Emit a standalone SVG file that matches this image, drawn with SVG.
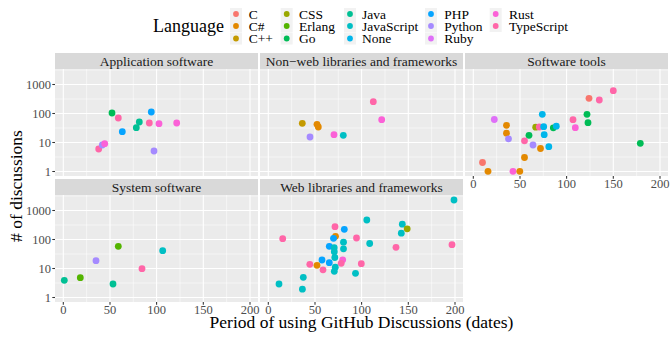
<svg xmlns="http://www.w3.org/2000/svg" xmlns:xlink="http://www.w3.org/1999/xlink" width="671" height="340" viewBox="0 0 671 340">
<style>
text{font-family:"Liberation Serif","Times New Roman",serif}
.strip{font-size:13.5px;fill:#1A1A1A;text-anchor:middle}
.ytick{font-size:12.5px;fill:#4D4D4D;text-anchor:end}
.xtick{font-size:12.5px;fill:#4D4D4D;text-anchor:middle}
.title{font-size:17.5px;fill:#000;text-anchor:middle}
.leg{font-size:13.5px;fill:#000}
.maj{stroke:#fff;stroke-width:1.07}
.min{stroke:#fff;stroke-width:0.53}
.tk{stroke:#333;stroke-width:1.07}
circle{stroke:none}
.C{fill:#F8766D}.Cs{fill:#E38900}.Cpp{fill:#C49A00}.CSS{fill:#99A800}.Erl{fill:#53B400}.Go{fill:#00BC56}.Java{fill:#00C094}.JS{fill:#00BFC4}.None{fill:#00B6EB}.PHP{fill:#06A4FF}.Py{fill:#A58AFF}.Ruby{fill:#DF70F8}.Rust{fill:#FB61D7}.TS{fill:#FF66A8}
</style>
<defs>
<g id="panelbg">
<rect x="0" y="-16" width="203" height="16" fill="#D9D9D9"/>
<rect x="0" y="0" width="203" height="107" fill="#EBEBEB"/>
<g class="min">
<line x1="31.6" y1="0" x2="31.6" y2="107"/><line x1="78.3" y1="0" x2="78.3" y2="107"/><line x1="125" y1="0" x2="125" y2="107"/><line x1="171.6" y1="0" x2="171.6" y2="107"/>
<line x1="0" y1="88" x2="203" y2="88"/><line x1="0" y1="59" x2="203" y2="59"/><line x1="0" y1="30" x2="203" y2="30"/><line x1="0" y1="1" x2="203" y2="1"/>
</g>
<g class="maj">
<line x1="8.3" y1="0" x2="8.3" y2="107"/><line x1="55" y1="0" x2="55" y2="107"/><line x1="101.6" y1="0" x2="101.6" y2="107"/><line x1="148.3" y1="0" x2="148.3" y2="107"/><line x1="195" y1="0" x2="195" y2="107"/>
<line x1="0" y1="102.5" x2="203" y2="102.5"/><line x1="0" y1="73.5" x2="203" y2="73.5"/><line x1="0" y1="44.5" x2="203" y2="44.5"/><line x1="0" y1="15.5" x2="203" y2="15.5"/>
</g>
</g>
<g id="xaxis">
<g class="tk"><line x1="8.3" y1="107" x2="8.3" y2="109.7"/><line x1="55" y1="107" x2="55" y2="109.7"/><line x1="101.6" y1="107" x2="101.6" y2="109.7"/><line x1="148.3" y1="107" x2="148.3" y2="109.7"/><line x1="195" y1="107" x2="195" y2="109.7"/></g>
<text class="xtick" x="8.3" y="119">0</text><text class="xtick" x="55" y="119">50</text><text class="xtick" x="101.6" y="119">100</text><text class="xtick" x="148.3" y="119">150</text><text class="xtick" x="195" y="119">200</text>
</g>
<g id="yaxis">
<g class="tk"><line x1="-2.7" y1="102.5" x2="0" y2="102.5"/><line x1="-2.7" y1="73.5" x2="0" y2="73.5"/><line x1="-2.7" y1="44.5" x2="0" y2="44.5"/><line x1="-2.7" y1="15.5" x2="0" y2="15.5"/></g>
<text class="ytick" x="-4" y="107">1</text><text class="ytick" x="-4" y="78">10</text><text class="ytick" x="-4" y="49">100</text><text class="ytick" x="-4" y="20">1000</text>
</g>
</defs>

<g id="legend">
<text class="leg" x="153" y="31.5" style="font-size:18px">Language</text>
<g fill="#F2F2F2">
<rect x="230" y="8" width="12" height="12"/><rect x="230" y="20" width="12" height="12"/><rect x="230" y="32.5" width="12" height="12"/>
<rect x="280.7" y="8" width="12" height="12"/><rect x="280.7" y="20" width="12" height="12"/><rect x="280.7" y="32.5" width="12" height="12"/>
<rect x="344" y="8" width="12" height="12"/><rect x="344" y="20" width="12" height="12"/><rect x="344" y="32.5" width="12" height="12"/>
<rect x="425" y="8" width="12" height="12"/><rect x="425" y="20" width="12" height="12"/><rect x="425" y="32.5" width="12" height="12"/>
<rect x="489.7" y="8" width="12" height="12"/><rect x="489.7" y="20" width="12" height="12"/>
</g>
<circle class="C" cx="236" cy="14" r="2.9"/><circle class="Cs" cx="236" cy="26" r="2.9"/><circle class="Cpp" cx="236" cy="38.5" r="2.9"/>
<circle class="CSS" cx="286.7" cy="14" r="2.9"/><circle class="Erl" cx="286.7" cy="26" r="2.9"/><circle class="Go" cx="286.7" cy="38.5" r="2.9"/>
<circle class="Java" cx="350" cy="14" r="2.9"/><circle class="JS" cx="350" cy="26" r="2.9"/><circle class="None" cx="350" cy="38.5" r="2.9"/>
<circle class="PHP" cx="431" cy="14" r="2.9"/><circle class="Py" cx="431" cy="26" r="2.9"/><circle class="Ruby" cx="431" cy="38.5" r="2.9"/>
<circle class="Rust" cx="495.7" cy="14" r="2.9"/><circle class="TS" cx="495.7" cy="26" r="2.9"/>
<text class="leg" x="248.7" y="18.5">C</text><text class="leg" x="248.7" y="30.5">C#</text><text class="leg" x="248.7" y="43">C++</text>
<text class="leg" x="299" y="18.5">CSS</text><text class="leg" x="299" y="30.5">Erlang</text><text class="leg" x="299" y="43">Go</text>
<text class="leg" x="362" y="18.5">Java</text><text class="leg" x="362" y="30.5">JavaScript</text><text class="leg" x="362" y="43">None</text>
<text class="leg" x="444.3" y="18.5">PHP</text><text class="leg" x="444.3" y="30.5">Python</text><text class="leg" x="444.3" y="43">Ruby</text>
<text class="leg" x="509" y="18.5">Rust</text><text class="leg" x="509" y="30.5">TypeScript</text>
</g>

<g id="panel-application">
<use xlink:href="#panelbg" transform="translate(55,69)"/>
<text class="strip" x="156.5" y="65.5">Application software</text>
<use xlink:href="#yaxis" transform="translate(55,69)"/>
<circle class="Go" cx="112" cy="113" r="3.4"/>
<circle class="TS" cx="118.3" cy="118" r="3.4"/>
<circle class="PHP" cx="122.3" cy="131.7" r="3.4"/>
<circle class="Java" cx="136.3" cy="127.7" r="3.4"/>
<circle class="Java" cx="139.3" cy="122" r="3.4"/>
<circle class="PHP" cx="151.3" cy="112" r="3.4"/>
<circle class="TS" cx="149.3" cy="123" r="3.4"/>
<circle class="Rust" cx="159" cy="123.7" r="3.4"/>
<circle class="Rust" cx="176.7" cy="123" r="3.4"/>
<circle class="Py" cx="154" cy="151" r="3.4"/>
<circle class="TS" cx="98.7" cy="149" r="3.4"/>
<circle class="Py" cx="102.3" cy="145" r="3.4"/>
<circle class="Rust" cx="104.7" cy="143.7" r="3.4"/>
</g>

<g id="panel-nonweb">
<use xlink:href="#panelbg" transform="translate(260,69)"/>
<text class="strip" x="361.5" y="65.5">Non−web libraries and frameworks</text>
<circle class="Cpp" cx="302.3" cy="123.3" r="3.4"/>
<circle class="Cs" cx="317" cy="124.3" r="3.4"/>
<circle class="Cs" cx="318.3" cy="127" r="3.4"/>
<circle class="Py" cx="310" cy="137" r="3.4"/>
<circle class="Rust" cx="334" cy="134.7" r="3.4"/>
<circle class="JS" cx="343.3" cy="135.3" r="3.4"/>
<circle class="TS" cx="373.3" cy="101.7" r="3.4"/>
<circle class="Rust" cx="381.7" cy="119.7" r="3.4"/>
</g>

<g id="panel-tools">
<use xlink:href="#panelbg" transform="translate(465,69)"/>
<text class="strip" x="566.5" y="65.5">Software tools</text>
<use xlink:href="#xaxis" transform="translate(465,69)"/>
<circle class="TS" cx="613.3" cy="90.7" r="3.4"/>
<circle class="C" cx="589" cy="98.3" r="3.4"/>
<circle class="TS" cx="599.3" cy="100" r="3.4"/>
<circle class="Go" cx="587" cy="114.3" r="3.4"/>
<circle class="Go" cx="588" cy="122.7" r="3.4"/>
<circle class="TS" cx="573" cy="119.7" r="3.4"/>
<circle class="Rust" cx="575.3" cy="127.7" r="3.4"/>
<circle class="Go" cx="640.3" cy="143.3" r="3.4"/>
<circle class="Ruby" cx="494.3" cy="119.5" r="3.4"/>
<circle class="Cs" cx="506.5" cy="125.3" r="3.4"/>
<circle class="Cs" cx="506.5" cy="133.2" r="3.4"/>
<circle class="Py" cx="508.5" cy="138.8" r="3.4"/>
<circle class="None" cx="542.3" cy="114.3" r="3.4"/>
<circle class="CSS" cx="535.7" cy="127.2" r="3.4"/>
<circle class="TS" cx="539.3" cy="127" r="3.4"/>
<circle class="None" cx="543.7" cy="126.7" r="3.4"/>
<circle class="Go" cx="553.3" cy="127.8" r="3.4"/>
<circle class="None" cx="556.3" cy="126.2" r="3.4"/>
<circle class="Go" cx="529" cy="135.3" r="3.4"/>
<circle class="None" cx="544.2" cy="134.7" r="3.4"/>
<circle class="TS" cx="524.5" cy="140.8" r="3.4"/>
<circle class="Py" cx="533" cy="145" r="3.4"/>
<circle class="Cs" cx="540.5" cy="148.5" r="3.4"/>
<circle class="None" cx="548.8" cy="146.7" r="3.4"/>
<circle class="Cs" cx="524.5" cy="157.5" r="3.4"/>
<circle class="C" cx="482.5" cy="162.5" r="3.4"/>
<circle class="Cs" cx="488" cy="171.3" r="3.4"/>
<circle class="Rust" cx="513" cy="171.3" r="3.4"/>
<circle class="Cs" cx="519.8" cy="171.3" r="3.4"/>
</g>

<g id="panel-system">
<use xlink:href="#panelbg" transform="translate(55,195)"/>
<text class="strip" x="156.5" y="191.5">System software</text>
<use xlink:href="#yaxis" transform="translate(55,195)"/>
<use xlink:href="#xaxis" transform="translate(55,195)"/>
<circle class="Java" cx="64.3" cy="280.3" r="3.4"/>
<circle class="Erl" cx="80.3" cy="277.7" r="3.4"/>
<circle class="Py" cx="96" cy="260.7" r="3.4"/>
<circle class="Erl" cx="118.3" cy="246.3" r="3.4"/>
<circle class="Java" cx="113" cy="284" r="3.4"/>
<circle class="TS" cx="142" cy="268.7" r="3.4"/>
<circle class="JS" cx="162.7" cy="250.7" r="3.4"/>
</g>

<g id="panel-web">
<use xlink:href="#panelbg" transform="translate(260,195)"/>
<text class="strip" x="361.5" y="191.5">Web libraries and frameworks</text>
<use xlink:href="#xaxis" transform="translate(260,195)"/>
<circle class="JS" cx="454" cy="200" r="3.4"/>
<circle class="TS" cx="335" cy="226.7" r="3.4"/>
<circle class="JS" cx="366.8" cy="220" r="3.4"/>
<circle class="JS" cx="402.3" cy="224.2" r="3.4"/>
<circle class="CSS" cx="407.2" cy="228.8" r="3.4"/>
<circle class="JS" cx="401.3" cy="233.2" r="3.4"/>
<circle class="PHP" cx="344.3" cy="229.3" r="3.4"/>
<circle class="Cs" cx="335.5" cy="236.3" r="3.4"/>
<circle class="PHP" cx="333.5" cy="238.3" r="3.4"/>
<circle class="TS" cx="282.7" cy="238.7" r="3.4"/>
<circle class="TS" cx="356.5" cy="238" r="3.4"/>
<circle class="JS" cx="343.5" cy="242.2" r="3.4"/>
<circle class="JS" cx="369.7" cy="243.5" r="3.4"/>
<circle class="PHP" cx="329.3" cy="246.3" r="3.4"/>
<circle class="JS" cx="334.2" cy="247.7" r="3.4"/>
<circle class="JS" cx="343.5" cy="248.8" r="3.4"/>
<circle class="TS" cx="396" cy="247.3" r="3.4"/>
<circle class="TS" cx="452" cy="244.7" r="3.4"/>
<circle class="JS" cx="334.3" cy="251.7" r="3.4"/>
<circle class="JS" cx="334.8" cy="257.5" r="3.4"/>
<circle class="PHP" cx="322" cy="260" r="3.4"/>
<circle class="Rust" cx="342.7" cy="259.8" r="3.4"/>
<circle class="TS" cx="341.2" cy="263.3" r="3.4"/>
<circle class="PHP" cx="329.3" cy="262.7" r="3.4"/>
<circle class="TS" cx="309.8" cy="264.3" r="3.4"/>
<circle class="Cs" cx="317" cy="265.3" r="3.4"/>
<circle class="TS" cx="361.3" cy="263.7" r="3.4"/>
<circle class="JS" cx="335.3" cy="267.2" r="3.4"/>
<circle class="TS" cx="323" cy="269.8" r="3.4"/>
<circle class="JS" cx="334.3" cy="271.3" r="3.4"/>
<circle class="JS" cx="355.5" cy="273.3" r="3.4"/>
<circle class="JS" cx="303.3" cy="277.3" r="3.4"/>
<circle class="JS" cx="279" cy="284" r="3.4"/>
<circle class="JS" cx="302.4" cy="289.2" r="3.4"/>
</g>

<g id="axis-titles">
<text class="title" x="361.5" y="328">Period of using GitHub Discussions (dates)</text>
<text class="title" transform="translate(21.5,186) rotate(-90)">
# of discussions</text>
</g>
</svg>
